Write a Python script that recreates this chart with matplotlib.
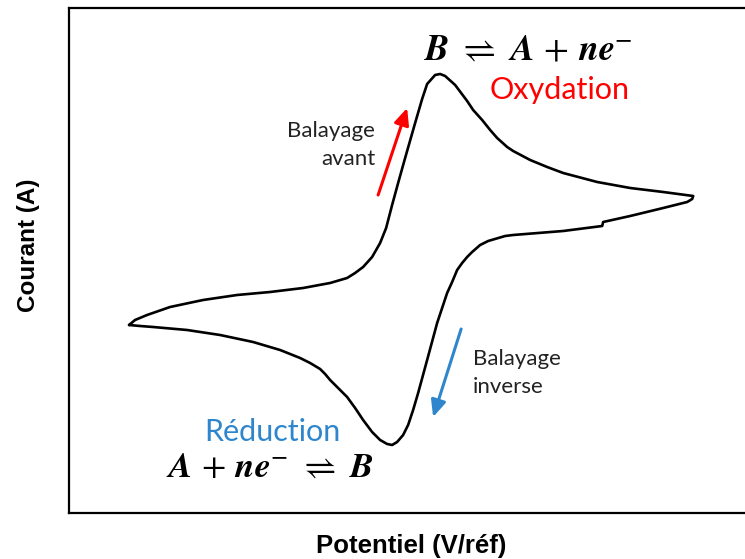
import matplotlib
matplotlib.use("Agg")
import matplotlib.pyplot as plt

plt.rcParams["mathtext.fontset"] = "stix"

# forward scan: from the negative vertex up through the oxidation peak
forward_E = [59, 65, 77, 100, 133, 167, 200, 233, 260, 277, 285, 293, 302, 310,
             316, 322, 328, 335, 341, 345, 352, 357, 365, 370, 375, 385, 397,
             403, 412, 420, 427, 437, 443, 460, 477, 493, 527, 560, 593, 623]
forward_I = [-65, -60, -55, -47, -40, -35, -32, -28, -23, -18, -13, -7, 3, 17,
             32, 55, 77, 102, 123, 137, 161, 176, 185, 186, 184, 175, 159,
             150, 140, 130, 122, 113, 109, 100, 93, 87, 78, 72, 68, 64]

# reverse scan: back through the reduction peak to the starting vertex
reverse_E = [623, 622, 617, 593, 560, 533, 532, 493, 443, 435, 418, 410, 402,
             397, 392, 387, 382, 377, 372, 367, 357, 348, 343, 338, 333, 327,
             322, 317, 310, 302, 293, 285, 277, 268, 260, 255, 250, 240, 230,
             210, 183, 150, 117, 83, 70, 59]
reverse_I = [64, 61, 58, 52, 44, 38, 34, 29, 25, 24, 19, 15, 8, 3, -3, -10,
             -22, -33, -48, -63, -100, -133, -150, -165, -175, -182, -185,
             -184, -180, -172, -160, -148, -137, -128, -120, -114, -109, -103,
             -98, -90, -82, -75, -70, -67, -66, -65]

E_range = (-1.5, 680)
I_range = (-253.5, 252)

fig = plt.figure(figsize=(7.45, 5.59), dpi=100)
ax = fig.add_axes([0.092, 0.0814, 0.915, 0.9043])

ax.plot(forward_E + reverse_E[1:], forward_I + reverse_I[1:], color="black",
        lw=1.9, solid_joinstyle="round", solid_capstyle="round")

ax.set_xlim(*E_range)
ax.set_ylim(*I_range)
ax.set_xticks([])
ax.set_yticks([])
for sp in ax.spines.values():
    sp.set_linewidth(1.6)
    sp.set_color("black")

fig.text(0.552, 0.024, "Potentiel (V/réf)", ha="center", va="center",
         family="Liberation Sans", weight="bold", fontsize=18.5)
fig.text(0.038, 0.562, "Courant (A)", ha="center", va="center", rotation=90,
         family="Liberation Sans", weight="bold", fontsize=17.5)

# half-reactions
ax.text(458, 210, r"$\mathbfit{B}\ \rightleftharpoons\ \mathbfit{A}\, +\, \mathbfit{ne}^{-}$",
        ha="center", va="center", fontsize=26)
ax.text(489, 170, "Oxydation", ha="center", va="center", color="#ff0000",
        family="Lato", fontsize=22)
ax.text(202, -172, "Réduction", ha="center", va="center", color="#2f86cc",
        family="Lato", fontsize=22)
ax.text(200, -207, r"$\mathbfit{A}\, +\, \mathbfit{ne}^{-}\ \rightleftharpoons\ \mathbfit{B}$",
        ha="center", va="center", fontsize=25.5)

# scan direction arrows
ax.annotate("", xy=(337, 152), xytext=(308, 65),
            arrowprops=dict(arrowstyle="-|>,head_length=1.0,head_width=0.45",
                            color="#ff0000", lw=2.2, shrinkA=0, shrinkB=0))
ax.annotate("", xy=(363, -157), xytext=(391, -69),
            arrowprops=dict(arrowstyle="-|>,head_length=1.0,head_width=0.45",
                            color="#2f86cc", lw=2.2, shrinkA=0, shrinkB=0))
ax.text(305, 115, "Balayage\navant", ha="right", va="center", multialignment="right",
        color="#222222", family="Lato", fontsize=16, linespacing=1.45)
ax.text(403, -113, "Balayage\ninverse", ha="left", va="center", multialignment="left",
        color="#222222", family="Lato", fontsize=16, linespacing=1.45)

fig.savefig("out.png", dpi=100)
